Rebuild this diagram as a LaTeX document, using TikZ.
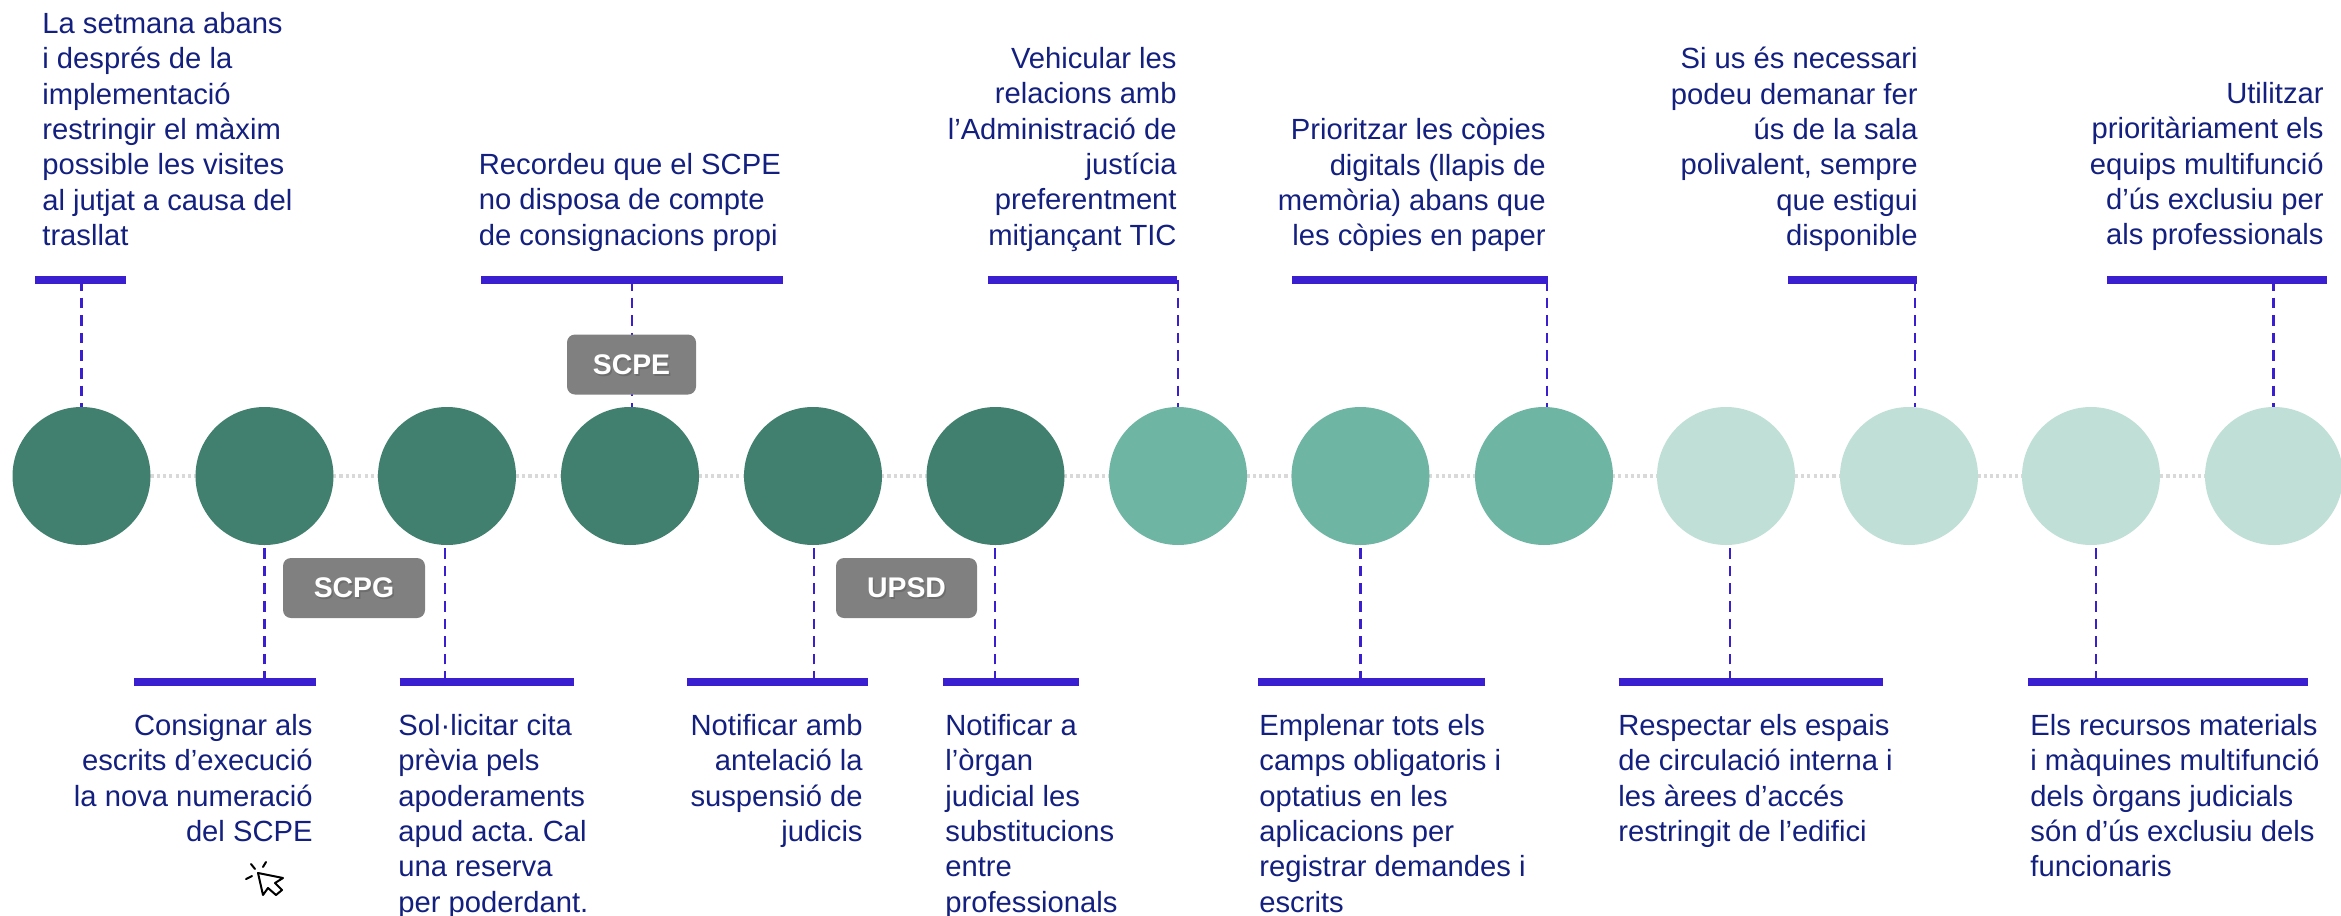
\documentclass[tikz,border=0pt]{standalone}
\usepackage{fontspec}
\setmainfont{Liberation Sans}
\definecolor{tnavy}{HTML}{13207F}
\definecolor{barblue}{HTML}{3A1FD0}
\definecolor{gdark}{HTML}{41806E}
\definecolor{gmid}{HTML}{6FB5A3}
\definecolor{glight}{HTML}{C0DFD6}
\definecolor{badge}{HTML}{808080}
\definecolor{axisgrey}{HTML}{D9D9D9}
\tikzset{
  circ/.style={circle,minimum size=69pt,inner sep=0pt,fill=#1},
  barline/.style={barblue,line width=4pt},
  conn/.style={barblue,line width=1.4pt,dash pattern=on 5.3pt off 3.5pt},
  axis/.style={axisgrey,line width=1.6pt,dash pattern=on 1.6pt off 1.55pt},
  lbl/.style={font=\fontsize{14.6}{17.65}\selectfont\frenchspacing,text=tnavy,inner sep=0pt},
  lbll/.style={lbl,align=left},
  lblr/.style={lbl,align=right},
  badgebox/.style={fill=badge,rounded corners=4pt,minimum height=30pt,inner sep=0pt},
  badgetext/.style={font=\fontsize{14.2}{16}\selectfont\bfseries,text=white}
}
\begin{document}
\begin{tikzpicture}[x=0.5pt,y=-0.5pt]
\useasboundingbox (0,0) rectangle (2341,916);
\coordinate (al) at (81,476); \coordinate (ar) at (2341,476);
\draw[axis] (al) -- (ar);
\foreach \n/\x/\c in {1/81.5/gdark,2/264.5/gdark,3/447/gdark,4/630/gdark,5/813/gdark,6/995.5/gdark,7/1178/gmid,8/1360.5/gmid,9/1544/gmid,10/1726/glight,11/1909/glight,12/2091/glight,13/2274/glight}
  \node[circ=\c] (c\n) at (\x,476) {};
% top bars
\foreach \n/\a/\b/\x in {1/35/126/81.5,4/481/783/632,7/988/1177/1178,9/1292/1548/1547,11/1788/1917/1915,13/2107/2327/2273.5}{
  \coordinate (ba\n) at (\a,280); \coordinate (bb\n) at (\b,280);
  \coordinate (bc\n) at (\x,280);
  \draw[conn] (bc\n) -- (bc\n |- c\n.north);
  \draw[barline] (ba\n) -- (bb\n);
}
% bottom bars
\foreach \n/\a/\b/\x in {2/134/316/264.5,3/399.5/573.5/445,5/687/868/814,6/943/1079/995,8/1258/1485/1360.5,10/1618.5/1883/1730,12/2028/2308/2096}{
  \coordinate (ba\n) at (\a,682); \coordinate (bb\n) at (\b,682);
  \coordinate (bc\n) at (\x,682);
  \draw[conn] (bc\n) -- (bc\n |- c\n.south);
  \draw[barline] (ba\n) -- (bb\n);
}
\foreach \nm/\t/\x/\y/\w in {b1/SCPE/631.5/364.5/129,b2/SCPG/354/588/142,b3/UPSD/906.5/588/141}{
  \node[badgebox,minimum width=\w*0.5pt] (\nm) at (\x,\y) {};
  \node[badgetext,text=black!60,opacity=0.7] (\nm s) at (\x+1.5,\y+2) {\t};
  \node[badgetext] (\nm t) at (\x,\y) {\t};
}
% top labels
\node[lbll,anchor=north west] (t1) at (42,12) {La setmana abans\\i després de la\\implementació\\restringir el màxim\\possible les visites\\al jutjat a causa del\\trasllat};
\node[lbll,anchor=north west] (t4) at (478.5,153) {Recordeu que el SCPE\\no disposa de compte\\de consignacions propi};
\node[lblr,anchor=north east] (t7) at (1177,47) {Vehicular les\\relacions amb\\l’Administració de\\justícia\\preferentment\\mitjançant TIC};
\node[lblr,anchor=north east] (t9) at (1546,118) {Prioritzar les còpies\\digitals (llapis de\\memòria) abans que\\les còpies en paper};
\node[lblr,anchor=north east] (t11) at (1918,47) {Si us és necessari\\podeu demanar fer\\ús de la sala\\polivalent, sempre\\que estigui\\disponible};
\node[lblr,anchor=north east] (t13) at (2324,82) {Utilitzar\\prioritàriament els\\equips multifunció\\d’ús exclusiu per\\als professionals};
% bottom labels
\node[lblr,anchor=north east] (t2) at (313,714) {Consignar als\\escrits d’execució\\la nova numeració\\del SCPE};
\node[lbll,anchor=north west] (t3) at (398,714) {Sol·licitar cita\\prèvia pels\\apoderaments\\apud acta. Cal\\una reserva\\per poderdant.};
\node[lblr,anchor=north east] (t5) at (863,714) {Notificar amb\\antelació la\\suspensió de\\judicis};
\node[lbll,anchor=north west] (t6) at (945,714) {Notificar a\\l’òrgan\\judicial les\\substitucions\\entre\\professionals};
\node[lbll,anchor=north west] (t8) at (1259,714) {Emplenar tots els\\camps obligatoris i\\optatius en les\\aplicacions per\\registrar demandes i\\escrits};
\node[lbll,anchor=north west] (t10) at (1618,714) {Respectar els espais\\de circulació interna i\\les àrees d’accés\\restringit de l’edifici};
\node[lbll,anchor=north west] (t12) at (2030,714) {Els recursos materials\\i màquines multifunció\\dels òrgans judicials\\són d’ús exclusiu dels\\funcionaris};
% cursor icon
\draw[black,line width=1pt,line join=round,fill=white] (258,873) -- (263,895) -- (268,888) -- (276,895) -- (282,890) -- (275,883) -- (283,878) -- cycle;
\draw[black,line width=1pt,line cap=round] (251,864) -- (255,869) (266,862) -- (263,867) (246,879) -- (252,876);
\end{tikzpicture}
\end{document}
